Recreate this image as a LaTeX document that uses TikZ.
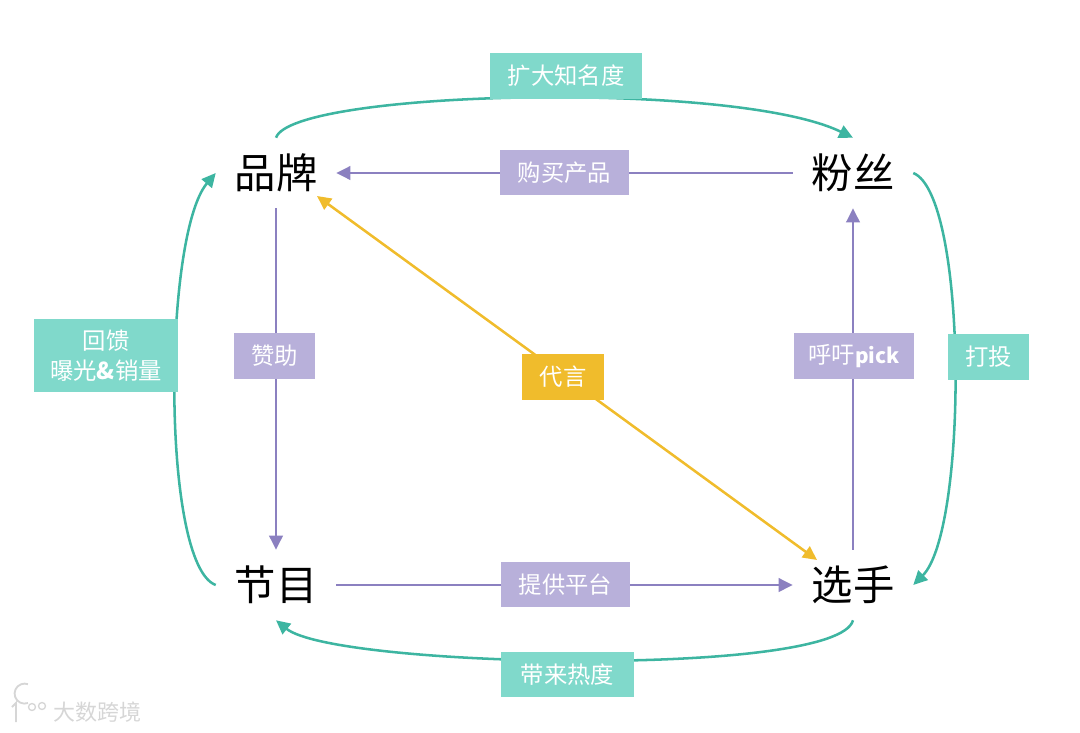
\documentclass[tikz,border=0pt]{standalone}
\usepackage{fontspec}
\setmainfont{Noto Sans CJK SC}
\usetikzlibrary{arrows.meta,backgrounds}
\definecolor{tealline}{HTML}{3DB5A1}
\definecolor{tealbox}{HTML}{80D9CB}
\definecolor{purpleline}{HTML}{8B80C0}
\definecolor{purplebox}{HTML}{B8B0DA}
\definecolor{goldline}{HTML}{F0BC2C}
\definecolor{markgray}{HTML}{D6D6D6}
\tikzset{
  player/.style={minimum width=90pt,minimum height=52.5pt,inner sep=0pt,font=\fontsize{31}{31}\selectfont},
  tag/.style={inner sep=0pt,text=white,font=\fontsize{17.5}{22.5}\selectfont,align=center},
  tealtag/.style={tag,fill=tealbox},
  purpletag/.style={tag,fill=purplebox},
  goldtag/.style={tag,fill=goldline},
  tealarc/.style={draw=tealline,line width=1.9pt,-{Triangle[length=10.5pt,width=10pt]}},
  purplearrow/.style={draw=purpleline,line width=1.9pt,-{Triangle[length=10.5pt,width=10pt]}},
  goldarrow/.style={draw=goldline,line width=1.9pt,{Triangle[length=10.5pt,width=10pt]}-{Triangle[length=10.5pt,width=10pt]}}
}
\begin{document}
\begin{tikzpicture}[x=0.75pt,y=-0.75pt]
  \useasboundingbox (0,0) rectangle (1080,732);
  \node[player] (pinpai) at (276,173) {品牌};
  \node[player] (fensi) at (853,173) {粉丝};
  \node[player] (jiemu) at (276,585) {节目};
  \node[player] (xuanshou) at (853,585) {选手};
  \node[tealtag,minimum width=114pt,minimum height=34.5pt] (kuoda) at (566,76) {扩大知名度};
  \node[purpletag,minimum width=96.75pt,minimum height=33.75pt] (goumai) at (564.5,172.5) {购买产品};
  \node[purpletag,minimum width=60.75pt,minimum height=34.5pt] (zanzhu) at (274.5,356) {赞助};
  \node[goldtag,minimum width=61.5pt,minimum height=34.5pt] (daiyan) at (563,377) {代言};
  \node[tealtag,minimum width=108pt,minimum height=54.75pt] (huikui) at (106,355.5) {回馈\\曝光\textbf{\&}销量};
  \node[purpletag,minimum width=90pt,minimum height=34.5pt] (huyu) at (854,356) {呼吁{\fontsize{15.5}{22.5}\selectfont\textbf{pick}}};
  \node[tealtag,minimum width=60.75pt,minimum height=34.5pt] (datou) at (988.5,357) {打投};
  \node[purpletag,minimum width=96.75pt,minimum height=33.75pt] (tigong) at (565.5,584.5) {提供平台};
  \node[tealtag,minimum width=99.75pt,minimum height=33.75pt] (dailai) at (567.5,674.5) {带来热度};
  \coordinate (goldtop) at (317,196);
  \coordinate (goldbottom) at (817,560);
  \begin{pgfonlayer}{background}
    \draw[tealarc] (pinpai.north) .. controls (292,90) and (735,80) .. (fensi.north);
    \draw[tealarc] (fensi.east) .. controls (968,195) and (968,530) .. (xuanshou.east);
    \draw[tealarc] (xuanshou.south) .. controls (838,678) and (335,668) .. (jiemu.south);
    \draw[tealarc] (jiemu.west) .. controls (161,565) and (163,235) .. (pinpai.west);
    \draw[purplearrow] (fensi.west) -- (pinpai.east);
    \draw[purplearrow] (pinpai.south) -- (jiemu.north);
    \draw[purplearrow] (jiemu.east) -- (xuanshou.west);
    \draw[purplearrow] (xuanshou.north) -- (fensi.south);
    \draw[goldarrow] (goldtop) -- (goldbottom);
  \end{pgfonlayer}
  % watermark
  \node[inner sep=0pt,text=markgray,font=\fontsize{16.5}{20}\selectfont] (mark) at (97,712) {大数跨境};
  \draw[markgray,line width=1.4pt] (12,707) -- (16,703) -- (16,722);
  \draw[markgray,line width=1.4pt] (28,703) arc (70:290:10);
  \draw[markgray,line width=1pt] (32,707) circle (3.5);
  \draw[markgray,line width=1pt] (42,706) circle (3.5);
\end{tikzpicture}
\end{document}
